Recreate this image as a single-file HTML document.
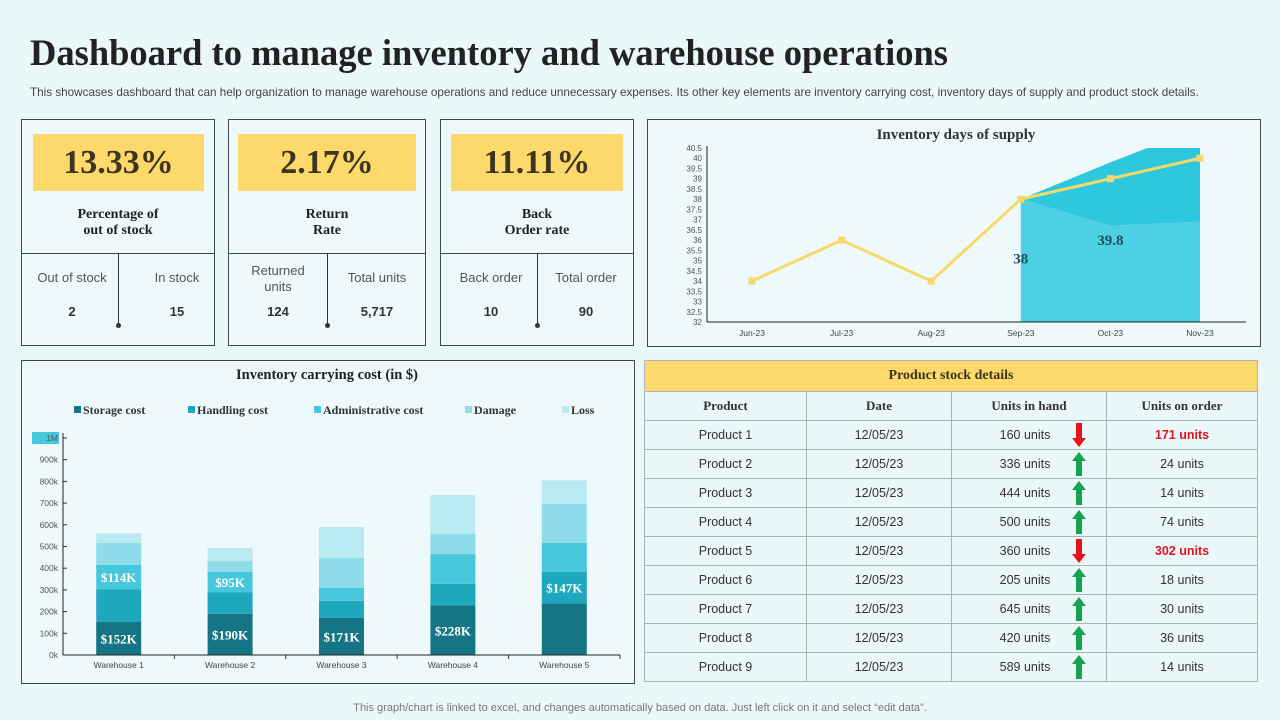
<!DOCTYPE html>
<html><head><meta charset="utf-8"><style>
body{margin:0;width:1280px;height:720px;background:#ebf8fa;position:relative;overflow:hidden;font-family:"Liberation Sans",sans-serif;color:#333}
.abs{position:absolute}
.serif{font-family:"Liberation Serif",serif}
.card{position:absolute;border:1px solid #3a4a50;box-sizing:border-box;background:#edf9fb}
.kv{position:absolute;background:#fcd96a;font-family:"Liberation Serif",serif;font-weight:bold;font-size:34px;color:#3d3520;text-align:center}
.klab{position:absolute;left:0;right:0;text-align:center;font-family:"Liberation Serif",serif;font-weight:bold;font-size:14px;line-height:16px;color:#222}
.sub{position:absolute;font-size:13px;color:#555;text-align:center;line-height:16px}
.num{position:absolute;font-size:13px;font-weight:bold;color:#333;text-align:center}
table{border-collapse:collapse;position:absolute;left:644px;top:360px;width:614px}
td,th{border:1.5px solid #a9b4b8;text-align:center;font-size:12.5px;height:28px;padding:0;color:#333}
th{font-family:"Liberation Serif",serif;font-size:13px;font-weight:bold}
</style></head><body>
<div class="abs serif" style="left:30px;top:31px;font-size:36.5px;font-weight:bold;color:#222;white-space:nowrap">Dashboard to manage inventory and warehouse operations</div>
<div class="abs" style="left:30px;top:86px;font-size:11.7px;color:#444;white-space:nowrap">This showcases dashboard that can help organization to manage warehouse operations and reduce unnecessary expenses. Its other key elements are inventory carrying cost, inventory days of supply and product stock details.</div>

<div class="card" style="left:21px;top:119px;width:194px;height:227px">
 <div class="kv" style="left:11px;top:14px;width:171px;height:57px;line-height:57px">13.33%</div>
 <div class="klab" style="top:87px">Percentage of<br>out of stock</div>
 <div class="abs" style="left:0;right:0;top:133px;border-top:1px solid #3a4a50"></div>
 <div class="abs" style="left:96px;top:133px;height:72px;border-left:1px solid #333"></div>
 <div class="abs" style="left:94px;top:203px;width:5px;height:5px;border-radius:50%;background:#333"></div>
 <div class="sub" style="left:5px;width:90px;top:150px">Out of stock</div>
 <div class="sub" style="left:110px;width:90px;top:150px">In stock</div>
 <div class="num" style="left:5px;width:90px;top:184px">2</div>
 <div class="num" style="left:110px;width:90px;top:184px">15</div>
</div>
<div class="card" style="left:228px;top:119px;width:198px;height:227px">
 <div class="kv" style="left:9px;top:14px;width:178px;height:57px;line-height:57px">2.17%</div>
 <div class="klab" style="top:87px">Return<br>Rate</div>
 <div class="abs" style="left:0;right:0;top:133px;border-top:1px solid #3a4a50"></div>
 <div class="abs" style="left:98px;top:133px;height:72px;border-left:1px solid #333"></div>
 <div class="abs" style="left:96px;top:203px;width:5px;height:5px;border-radius:50%;background:#333"></div>
 <div class="sub" style="left:5px;width:88px;top:143px">Returned<br>units</div>
 <div class="sub" style="left:103px;width:90px;top:150px">Total units</div>
 <div class="num" style="left:5px;width:88px;top:184px">124</div>
 <div class="num" style="left:103px;width:90px;top:184px">5,717</div>
</div>
<div class="card" style="left:440px;top:119px;width:194px;height:227px">
 <div class="kv" style="left:10px;top:14px;width:172px;height:57px;line-height:57px">11.11%</div>
 <div class="klab" style="top:87px">Back<br>Order rate</div>
 <div class="abs" style="left:0;right:0;top:133px;border-top:1px solid #3a4a50"></div>
 <div class="abs" style="left:96px;top:133px;height:72px;border-left:1px solid #333"></div>
 <div class="abs" style="left:94px;top:203px;width:5px;height:5px;border-radius:50%;background:#333"></div>
 <div class="sub" style="left:5px;width:90px;top:150px">Back order</div>
 <div class="sub" style="left:100px;width:90px;top:150px">Total order</div>
 <div class="num" style="left:5px;width:90px;top:184px">10</div>
 <div class="num" style="left:100px;width:90px;top:184px">90</div>
</div>

<div class="card" style="left:647px;top:119px;width:614px;height:228px"></div>
<svg class="abs" style="left:0;top:0" width="1280" height="720" id="lineSvg"><defs><clipPath id="plotClip"><rect x="707" y="148" width="540" height="174"/></clipPath></defs></svg>
<div class="card" style="left:21px;top:360px;width:614px;height:324px"></div>
<svg class="abs" style="left:0;top:0" width="1280" height="720" id="barSvg"></svg>

<table>
<tr><th colspan="4" style="background:#fcd96a;height:30px;font-size:14px;color:#3d3520">Product stock details</th></tr>
<tr><th style="width:161px">Product</th><th style="width:144px">Date</th><th style="width:154px">Units in hand</th><th>Units on order</th></tr>
<tbody id="tbody"></tbody>
</table>

<div class="abs" style="left:0;width:1280px;top:702px;text-align:center;font-size:11px;color:#777">This graph/chart is linked to excel, and changes automatically based on data. Just left click on it and select “edit data”.</div>

<script>
const months=["Jun-23","Jul-23","Aug-23","Sep-23","Oct-23","Nov-23"];
const supply=[34,36,34,38,39,40];
const areaLow=[null,null,null,38,36.7,36.9];
const areaHigh=[null,null,null,38,39.8,41.5];
const yTicks=[32,32.5,33,33.5,34,34.5,35,35.5,36,36.5,37,37.5,38,38.5,39,39.5,40,40.5];

const categories=["Warehouse 1","Warehouse 2","Warehouse 3","Warehouse 4","Warehouse 5"];
const storage=[152,190,171,228,237];
const handling=[150,98,79,100,146];
const admin=[114,95,60,137,134];
const damage=[100,50,138,93,180];
const loss=[45,60,142,179,108];
const barTicks=["0k","100k","200k","300k","400k","500k","600k","700k","800k","900k","1M"];
const seriesNames=["Storage cost","Handling cost","Administrative cost","Damage","Loss"];
const storageLabels=["$152K","$190K","$171K","$228K",""];
const adminLabels=["$114K","$95K","","",""];
const handlingLabels=["","","","","$147K"];

const products=["Product 1","Product 2","Product 3","Product 4","Product 5","Product 6","Product 7","Product 8","Product 9"];
const inHand=[160,336,444,500,360,205,645,420,589];
const onOrder=[171,24,14,74,302,18,30,36,14];
const trendUp=[false,true,true,true,false,true,true,true,true];

const NS="http://www.w3.org/2000/svg";
function mk(svg,t,a,txt){const e=document.createElementNS(NS,t);for(const k in a)e.setAttribute(k,a[k]);if(txt!=null)e.textContent=txt;svg.appendChild(e);return e;}

(function(){
const s=document.getElementById('lineSvg');
const x0=707,x1=1246,yb=322,yt=148;
const X=i=>752+i*89.6;
const Y=v=>yb-(v-32)/(40.5-32)*(yb-yt);
let t=mk(s,'text',{x:956,y:139,'text-anchor':'middle','font-family':'Liberation Serif','font-weight':'bold','font-size':15,fill:'#333'},'Inventory  days of supply');

yTicks.forEach(v=>{const e=mk(s,'text',{x:702,y:Y(v)+3,'text-anchor':'end','font-size':8,fill:'#555'},String(v));
});
months.forEach((m,i)=>{const e=mk(s,'text',{x:X(i),y:336,'text-anchor':'middle','font-size':8.5,fill:'#444'},m);
});
const idx=[3,4,5];
const hiPts=idx.map(i=>X(i)+','+Y(areaHigh[i]));
const loPts=idx.map(i=>X(i)+','+Y(areaLow[i]));
let a2=mk(s,'polygon',{points:hiPts.join(' ')+' '+loPts.slice().reverse().join(' '),fill:'#2ec8de','clip-path':'url(#plotClip)'});

let a1=mk(s,'polygon',{points:loPts.join(' ')+' '+X(5)+','+yb+' '+X(3)+','+yb,fill:'#4dd0e3'});

mk(s,'line',{x1:x0,y1:yt-2,x2:x0,y2:yb,stroke:'#222','stroke-width':1});
mk(s,'line',{x1:x0,y1:yb,x2:x1,y2:yb,stroke:'#222','stroke-width':1});
let pl=mk(s,'polyline',{points:supply.map((v,i)=>X(i)+','+Y(v)).join(' '),fill:'none',stroke:'#f7d96b','stroke-width':3});

supply.forEach((v,i)=>{const r=mk(s,'rect',{x:X(i)-3.5,y:Y(v)-3.5,width:7,height:7,fill:'#f7d96b'});
});
let l1=mk(s,'text',{x:X(3),y:Y(35)+3,'text-anchor':'middle','font-family':'Liberation Serif','font-weight':'bold','font-size':15,fill:'#1d4d5a'},'38');

let l2=mk(s,'text',{x:X(4),y:Y(35.9)+3,'text-anchor':'middle','font-family':'Liberation Serif','font-weight':'bold','font-size':15,fill:'#1d4d5a'},'39.8');

})();

(function(){
const s=document.getElementById('barSvg');
const x0=63,x1=620,yb=655,yt=438,bw=45;
const Y=v=>yb-v/1000*(yb-yt);
const X=i=>x0+(x1-x0)/5*(i+0.5);
const colors=['#167585','#1fa7bd','#47c7dc','#8edcea','#b9eaf2'];
let t=mk(s,'text',{x:327,y:379,'text-anchor':'middle','font-family':'Liberation Serif','font-weight':'bold','font-size':14.5,fill:'#222'},'Inventory carrying cost (in $)');

const lx=[74,188,314,465,562];
seriesNames.forEach((n,k)=>{const r=mk(s,'rect',{x:lx[k],y:406,width:7,height:7,fill:colors[k]});

const e=mk(s,'text',{x:lx[k]+9,y:414,'font-family':'Liberation Serif','font-weight':'bold','font-size':12,fill:'#333'},n);
});
mk(s,'rect',{x:32,y:432,width:27,height:12,fill:'#47c7dc'});
barTicks.forEach((tk,i)=>{const e=mk(s,'text',{x:58,y:Y(i*100)+3,'text-anchor':'end','font-size':8.5,fill:'#555'},tk);

mk(s,'line',{x1:x0,y1:Y(i*100),x2:x0+4,y2:Y(i*100),stroke:'#333'});});
const series=[storage,handling,admin,damage,loss];
categories.forEach((c,i)=>{let base=0;
series.forEach((arr,k)=>{const r=mk(s,'rect',{x:X(i)-bw/2,y:Y(base+arr[i]),width:bw,height:Y(base)-Y(base+arr[i]),fill:colors[k]});
base+=arr[i];});
const lab=(txt,lo,v)=>{if(!txt)return;const e=mk(s,'text',{x:X(i),y:(Y(lo)+Y(lo+v))/2+5,'text-anchor':'middle','font-family':'Liberation Serif','font-weight':'bold','font-size':13,fill:'#fff'},txt);
};
lab(storageLabels[i],0,storage[i]);lab(handlingLabels[i],storage[i],handling[i]);lab(adminLabels[i],storage[i]+handling[i],admin[i]);
const e=mk(s,'text',{x:X(i),y:668,'text-anchor':'middle','font-size':8.5,fill:'#444'},c);

mk(s,'line',{x1:x0+(x1-x0)/5*(i+1),y1:yb,x2:x0+(x1-x0)/5*(i+1),y2:yb+4,stroke:'#333'});});
mk(s,'line',{x1:x0,y1:yt-5,x2:x0,y2:yb,stroke:'#222'});
mk(s,'line',{x1:x0,y1:yb,x2:x1,y2:yb,stroke:'#222'});
})();

(function(){
const tb=document.getElementById('tbody');
products.forEach((p,i)=>{const tr=document.createElement('tr');


const up=trendUp[i];
const arrow=up?'<svg width="14" height="24" style="vertical-align:middle"><polygon points="7,0 14,9 10,9 10,24 4,24 4,9 0,9" fill="#16a350"/></svg>':'<svg width="14" height="24" style="vertical-align:middle"><polygon points="7,24 14,15 10,15 10,0 4,0 4,15 0,15" fill="#e3141a"/></svg>';
tr.innerHTML='<td>'+p+'</td><td>12/05/23</td><td style="position:relative"><span style="position:relative;left:-4px">'+inHand[i]+' units</span><span style="position:absolute;left:120px;top:2px">'+arrow+'</span></td><td style="'+(up?'':'color:#e3141a;font-weight:bold')+'">'+onOrder[i]+' units</td>';
tb.appendChild(tr);});
})();
</script>
</body></html>
